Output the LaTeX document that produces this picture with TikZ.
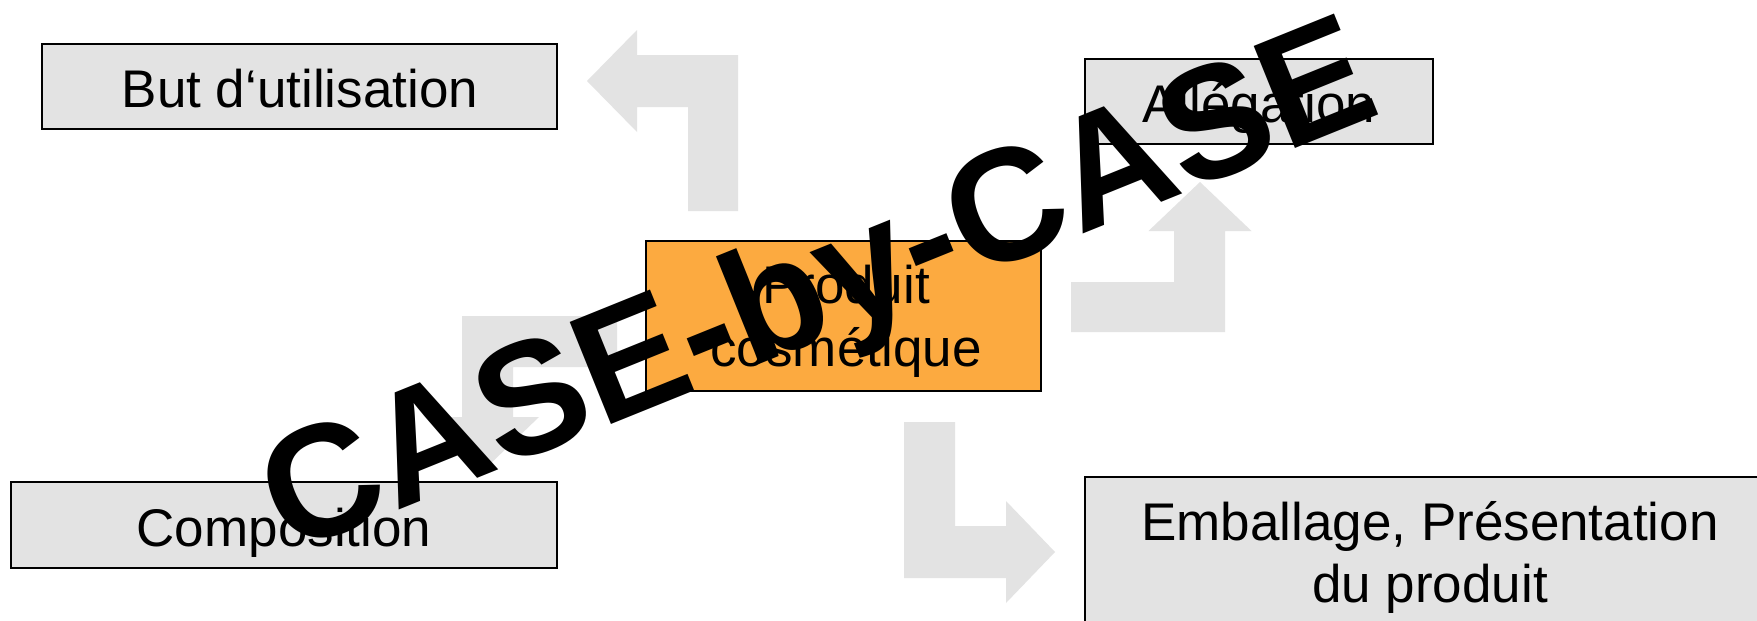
\documentclass[tikz,border=0pt]{standalone}
\usepackage{fontspec}
\setmainfont{Liberation Sans}
\definecolor{boxgray}{RGB}{227,227,227}
\definecolor{arrgray}{RGB}{227,227,227}
\definecolor{prodorange}{RGB}{252,170,64}
\tikzset{
  box/.style={draw=black, line width=2.4pt, fill=boxgray, inner sep=0pt},
  prodbox/.style={box, fill=prodorange},
  lbl/.style={anchor=base, inner sep=0pt, font=\fontsize{53}{61}\selectfont},
  blockarrow/.style={fill=arrgray, draw=none},
  stamp/.style={anchor=base west, inner sep=0pt, rotate=22, font=\fontsize{160}{160}\selectfont\bfseries}
}
\begin{document}
\begin{tikzpicture}[x=1pt,y=-1pt]
\useasboundingbox (0,0) rectangle (1757,621);
\fill[white] (0,0) rectangle (1757,621);
% block arrows
\fill[blockarrow] (738,211) -- (738,55) -- (637,55) -- (637,30) -- (587,81) -- (637,132) -- (637,107) -- (688,107) -- (688,211) -- cycle;
\fill[blockarrow] (1071,282) -- (1174,282) -- (1174,231) -- (1148.5,231) -- (1200,182) -- (1251.5,231) -- (1225,231) -- (1225,332) -- (1071,332) -- cycle;
\fill[blockarrow] (904,422) -- (955,422) -- (955,526) -- (1006,526) -- (1006,501) -- (1055,552) -- (1006,603) -- (1006,578) -- (904,578) -- cycle;
\fill[blockarrow] (617,316) -- (617,367) -- (513,367) -- (513,417) -- (539,417) -- (488,466) -- (437,417) -- (462,417) -- (462,316) -- cycle;
% boxes
\node[box, minimum width=515pt, minimum height=85pt] (but) at (299.5,86.5) {};
\node[box, minimum width=348pt, minimum height=85pt] (alleg) at (1259,101.5) {};
\node[prodbox, minimum width=395pt, minimum height=150pt] (prod) at (843.5,316) {};
\node[box, minimum width=546pt, minimum height=86pt] (comp) at (284,525) {};
\node[box, minimum width=705pt, minimum height=183pt] (emb) at (1437.5,568.5) {};
% labels
\node[lbl] (tbut) at (300,107) {But d‘utilisation};
\node[lbl] (talleg) at (1259,122) {Allégation};
\node[lbl] (tprod1) at (846,303) {Produit};
\node[lbl] (tprod2) at (846,366) {cosmétique};
\node[lbl] (tcomp) at (284,546) {Composition};
\node[lbl] (temb1) at (1430,540) {Emballage, Présentation};
\node[lbl] (temb2) at (1430,602) {du produit};
% stamp
\node[stamp] (stamp) at (288,555) {CASE-by-CASE};
\end{tikzpicture}
\end{document}
